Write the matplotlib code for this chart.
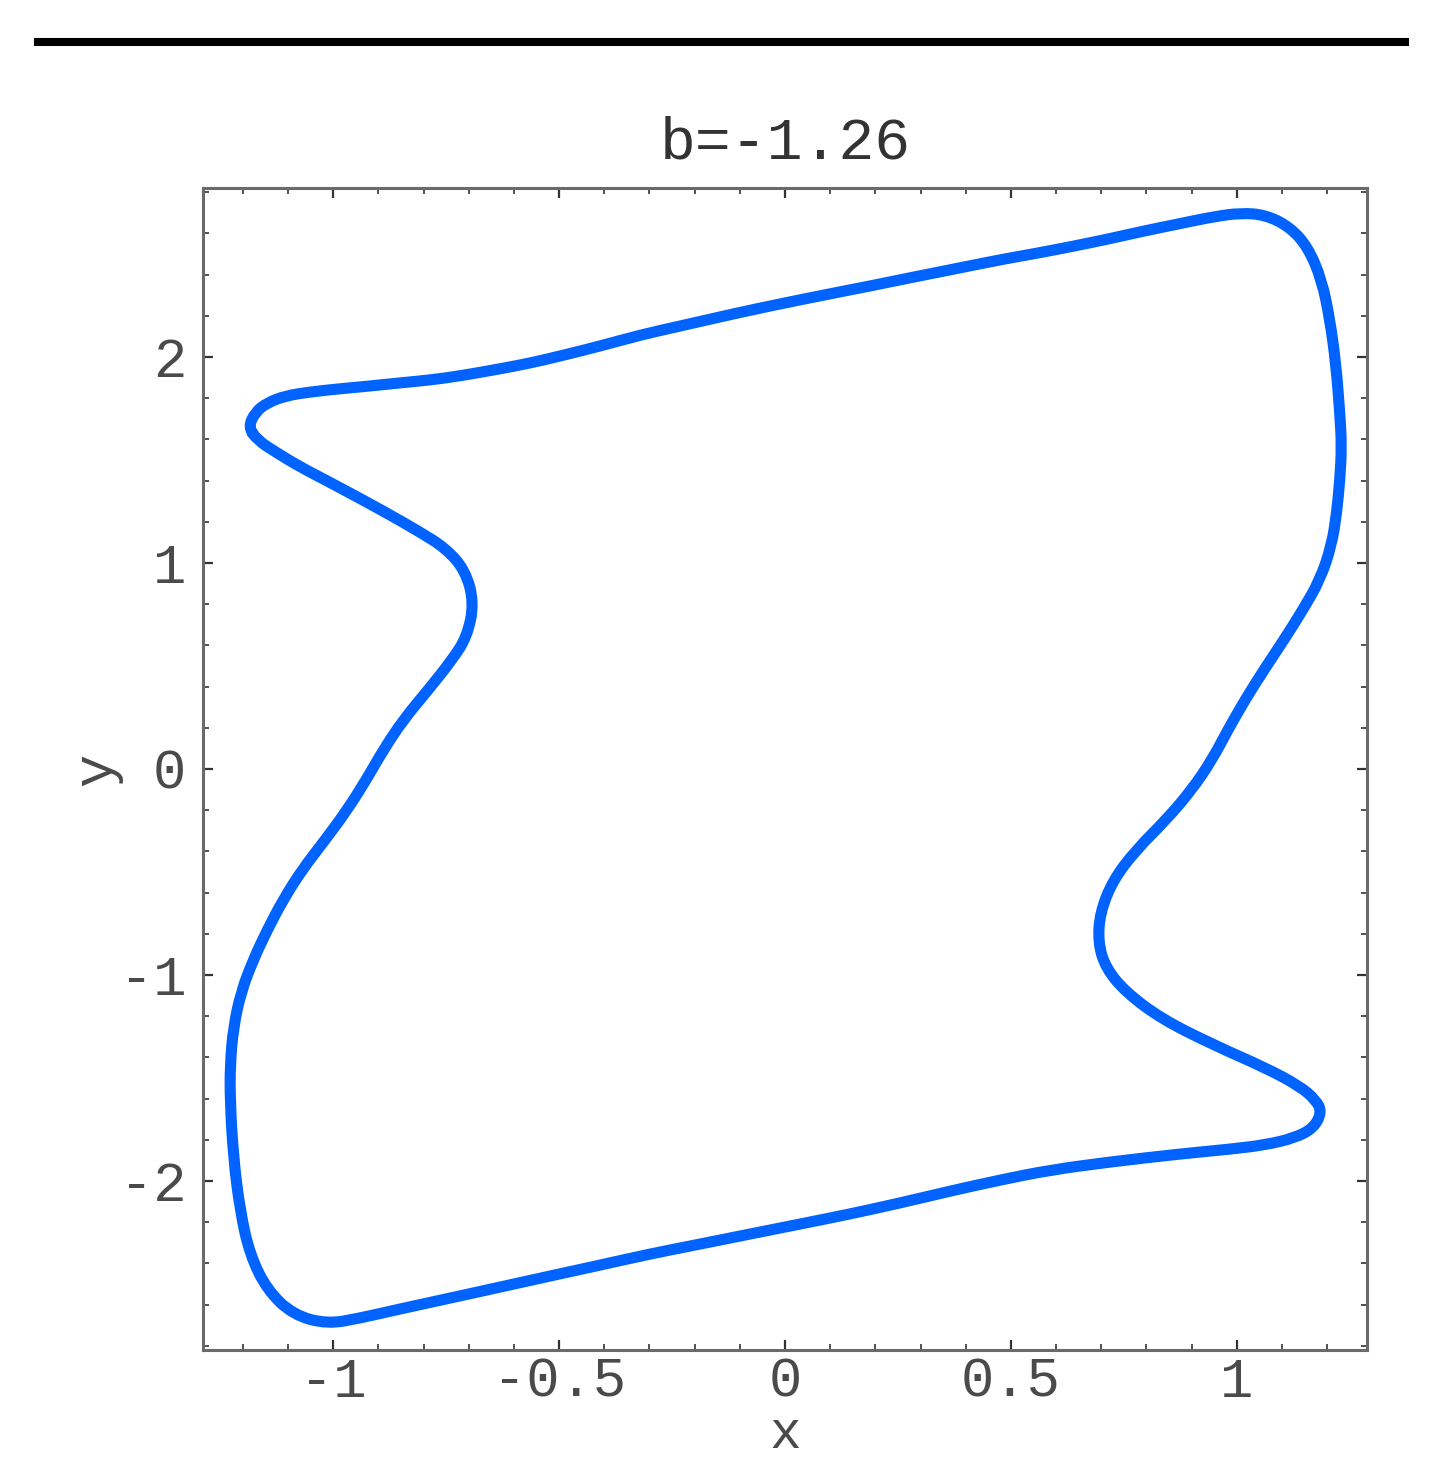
import matplotlib
matplotlib.use("Agg")
import matplotlib.pyplot as plt
from matplotlib.lines import Line2D
from matplotlib.path import Path
from matplotlib.patches import PathPatch
from matplotlib.ticker import MultipleLocator

plt.rcParams['axes.unicode_minus'] = False
FONT = ['Liberation Mono', 'DejaVu Sans Mono']

# Closed orbit (data units), clockwise from the upper-left hook
x_vals = [-1.188, -1.172, -1.146, -1.106, -1.051,
          -0.987, -0.918, -0.852, -0.785, -0.719, -0.631, -0.562, -0.487, -0.409, -0.319,
          -0.232, -0.144, -0.064, 0.033, 0.122, 0.190, 0.254, 0.343, 0.409, 0.487,
          0.562, 0.642, 0.717, 0.796, 0.872, 0.947, 1.009,
          1.064, 1.117, 1.157, 1.188, 1.206, 1.219, 1.228, 1.232, 1.228, 1.221,
          1.210, 1.184, 1.146, 1.104, 1.060, 1.018, 0.980, 0.945, 0.900, 0.843,
          0.777, 0.726, 0.697, 0.693, 0.710, 0.754, 0.834, 0.949, 1.064, 1.139,
          1.175, 1.188, 1.170, 1.128, 1.062,
          0.987, 0.872, 0.717, 0.586, 0.476, 0.365, 0.254, 0.144, 0.033, -0.077,
          -0.188, -0.299, -0.409, -0.520, -0.631, -0.741, -0.852, -0.940, -1.013,
          -1.088, -1.146, -1.184, -1.206, -1.221, -1.228,
          -1.228, -1.221, -1.204, -1.177, -1.146, -1.111, -1.069, -1.018, -0.969, -0.927,
          -0.889, -0.845, -0.790, -0.737, -0.704, -0.688, -0.708, -0.752, -0.808, -0.889,
          -1.000, -1.073, -1.128, -1.168, -1.188]
y_vals = [1.660, 1.733, 1.777, 1.811, 1.830,
          1.845, 1.859, 1.874, 1.888, 1.908, 1.942, 1.971, 2.010, 2.053, 2.107,
          2.150, 2.194, 2.233, 2.277, 2.316, 2.345, 2.374, 2.413, 2.442, 2.476,
          2.505, 2.539, 2.573, 2.612, 2.646, 2.680, 2.699,
          2.689, 2.631, 2.534, 2.374, 2.180, 1.971, 1.728, 1.563, 1.403, 1.243,
          1.087, 0.917, 0.772, 0.626, 0.481, 0.335, 0.189, 0.044, -0.102, -0.248,
          -0.393, -0.539, -0.699, -0.845, -0.966, -1.083, -1.214, -1.340, -1.451, -1.539,
          -1.607, -1.665, -1.743, -1.791, -1.825,
          -1.845, -1.869, -1.908, -1.947, -1.995, -2.049, -2.107, -2.160, -2.209, -2.257,
          -2.306, -2.354, -2.408, -2.461, -2.515, -2.568, -2.621, -2.665, -2.694,
          -2.650, -2.529, -2.359, -2.146, -1.879, -1.612,
          -1.437, -1.257, -1.083, -0.927, -0.782, -0.636, -0.490, -0.345, -0.199, -0.053,
          0.092, 0.238, 0.383, 0.529, 0.641, 0.806, 0.966, 1.073, 1.150, 1.252,
          1.383, 1.466, 1.539, 1.597, 1.660]

x_ticks = [-1, -0.5, 0, 0.5, 1]
x_ticklabels = ['-1', '-0.5', '0', '0.5', '1']
y_ticks = [-2, -1, 0, 1, 2]
y_ticklabels = ['-2', '-1', '0', '1', '2']
title_text = 'b=-1.26'

TXT = '#4a4a4a'
fig = plt.figure(figsize=(14.43, 14.72), dpi=100)
ax = fig.add_axes([0.1407, 0.0829, 0.8066, 0.7894])

# smooth closed curve through the read points (quadratic B-spline path)
n = min(len(x_vals), len(y_vals)) - 1
pts = list(zip(x_vals[:n], y_vals[:n]))
mids = [((pts[i][0] + pts[(i + 1) % n][0]) / 2, (pts[i][1] + pts[(i + 1) % n][1]) / 2) for i in range(n)]
verts = [mids[-1]]
codes = [Path.MOVETO]
for i in range(n):
    verts += [pts[i], mids[i]]
    codes += [Path.CURVE3, Path.CURVE3]
ax.add_patch(PathPatch(Path(verts, codes), facecolor='none', edgecolor='#0062ff',
                       lw=8, joinstyle='round', capstyle='round'))
ax.set_xlim(-1.288, 1.288)
ax.set_ylim(-2.82, 2.82)

ax.set_xticks(x_ticks)
ax.set_xticklabels(x_ticklabels)
ax.set_yticks(y_ticks)
ax.set_yticklabels(y_ticklabels)
ax.xaxis.set_minor_locator(MultipleLocator(0.1))
ax.yaxis.set_minor_locator(MultipleLocator(0.2))
ax.tick_params(which='both', direction='in', top=True, right=True, color='#333333')
ax.tick_params(which='major', length=7, width=1.6, pad=5)
ax.tick_params(which='minor', length=4, width=1.2)
ax.tick_params(axis='y', which='major', pad=12)
for lab in ax.get_xticklabels() + ax.get_yticklabels():
    lab.set_family(FONT)
    lab.set_fontsize(40)
    lab.set_color(TXT)
for sp in ax.spines.values():
    sp.set_color('#6a6a6a')
    sp.set_linewidth(2.2)

ax.set_xlabel('x', fontsize=38, family=FONT, color=TXT, labelpad=0)
ax.set_ylabel('y', fontsize=40, family=FONT, color=TXT, labelpad=-2)

fig.text(0.544, 0.903, title_text, ha='center', va='center', fontsize=43, family=FONT, color='#333333')
fig.add_artist(Line2D([0.0263, 0.9737], [0.9715, 0.9715], color='black', lw=5.8, transform=fig.transFigure))

fig.savefig('out.png', dpi=100, facecolor='white')
